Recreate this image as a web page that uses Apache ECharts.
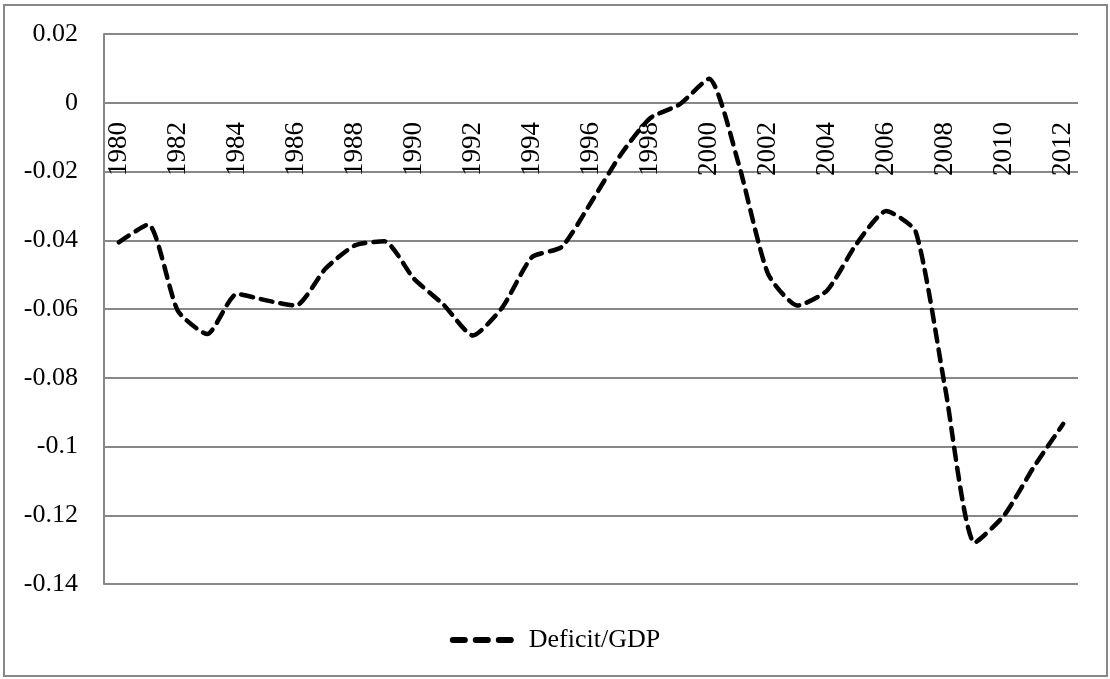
<!DOCTYPE html>
<html>
<head>
<meta charset="utf-8">
<script src="https://cdn.jsdelivr.net/npm/echarts@6/dist/echarts.min.js"></script>
<style>
html,body{margin:0;padding:0;background:#fff;}
#c{width:1110px;height:679px;}
</style>
</head>
<body>
<div id="c"></div>
<script>
const years = ['1980','1981','1982','1983','1984','1985','1986','1987','1988','1989','1990','1991','1992','1993','1994','1995','1996','1997','1998','1999','2000','2001','2002','2003','2004','2005','2006','2007','2008','2009','2010','2011','2012'];
const deficitGDP = [-0.0406,-0.0354,-0.0605,-0.0673,-0.0556,-0.0575,-0.059,-0.0483,-0.0415,-0.0403,-0.0512,-0.0587,-0.0677,-0.0595,-0.0449,-0.042,-0.029,-0.0152,-0.0045,-0.0005,0.007,-0.0177,-0.0498,-0.059,-0.0546,-0.041,-0.0315,-0.0375,-0.083,-0.128,-0.12,-0.106,-0.0934];
const seriesName = 'Deficit/GDP';

const font = 'Liberation Serif';
const chart = echarts.init(document.getElementById('c'), null, {renderer:'canvas'});
chart.setOption({
  backgroundColor:'#fff',
  animation:false,
  graphic:[{type:'rect',shape:{x:4,y:5,width:1103,height:671},style:{fill:'none',stroke:'#878787',lineWidth:2},silent:true}],
  grid:{left:104,top:34,right:32,bottom:95},
  legend:{
    bottom:21,left:'center',
    itemWidth:64,itemHeight:6,itemGap:10,
    textStyle:{fontFamily:font,fontSize:26,color:'#000',padding:[0,0,0,10]},
    data:[{name:seriesName,icon:'path://M3,0 h12 a3,3 0 0 1 0,6 h-12 a3,3 0 0 1 0,-6 z M26,0 h12 a3,3 0 0 1 0,6 h-12 a3,3 0 0 1 0,-6 z M49,0 h12 a3,3 0 0 1 0,6 h-12 a3,3 0 0 1 0,-6 z',
      itemStyle:{color:'#000'}}]
  },
  xAxis:{
    type:'category',data:years,boundaryGap:true,
    position:'bottom',offset:-482,
    axisLine:{onZero:false,show:false},
    axisTick:{show:false},
    axisLabel:{interval:1,rotate:90,margin:20,fontFamily:font,fontSize:27,color:'#000'},
    splitLine:{show:false}
  },
  yAxis:{
    type:'value',min:-0.14,max:0.02,interval:0.02,
    axisLine:{show:true,lineStyle:{color:'#878787',width:2}},
    axisTick:{show:false},
    axisLabel:{margin:26,fontFamily:font,fontSize:26,color:'#000',
      formatter:v=>{const r=Math.round(v*100)/100;return String(r);}},
    splitLine:{lineStyle:{color:'#878787',width:2}}
  },
  series:[{
    name:seriesName,type:'line',data:deficitGDP,
    smooth:0.2,symbol:'none',
    lineStyle:{color:'#000',width:4.5,type:[12,8],cap:'round'},
    itemStyle:{color:'#000'}
  }]
});
</script>
</body>
</html>
